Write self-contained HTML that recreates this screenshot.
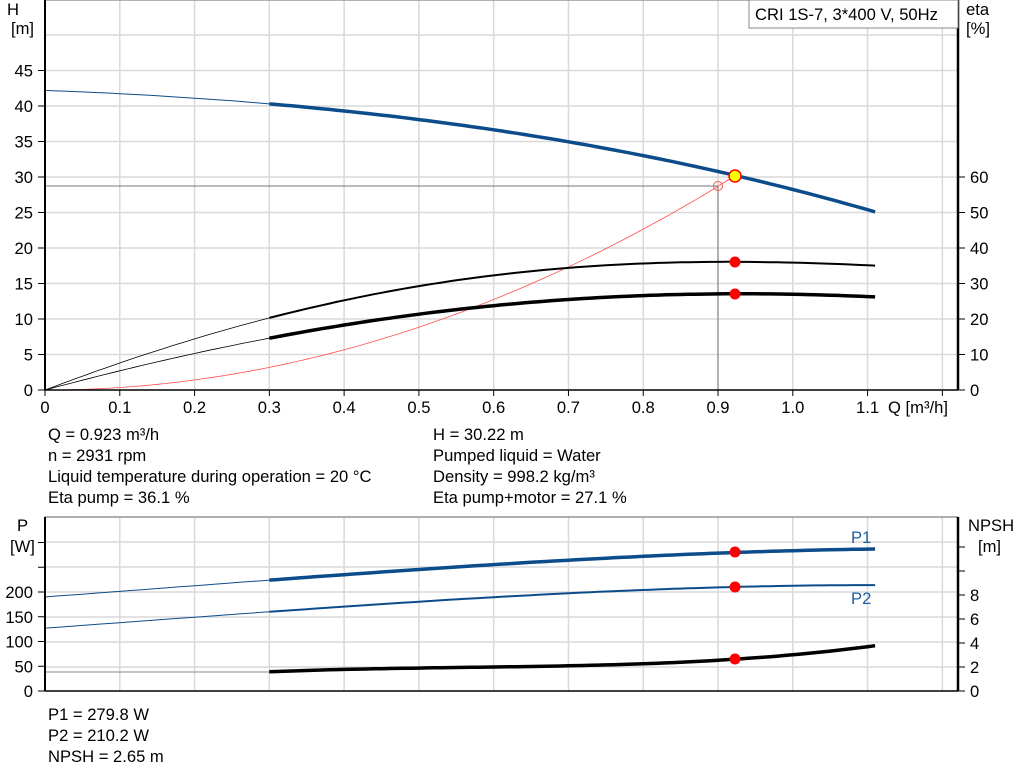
<!DOCTYPE html>
<html><head><meta charset="utf-8"><style>
html,body{margin:0;padding:0;background:#fff;}
svg{display:block;font-family:"Liberation Sans",Arial,sans-serif;}
</style></head><body>
<svg id="s" width="1024" height="781" viewBox="0 0 1024 781" xmlns="http://www.w3.org/2000/svg">
<g id="grid" stroke="#d9d9d9" stroke-width="1.5" fill="none"></g>
<g id="curves" fill="none"></g>
<g id="axes"></g>
<g font-size="16.6" fill="#000">
<text x="7" y="15">H</text><text x="11" y="34">[m]</text>
<text x="966" y="15">eta</text><text x="966" y="34">[%]</text>
<text x="48" y="440">Q = 0.923 m³/h</text>
<text x="48" y="461">n = 2931 rpm</text>
<text x="48" y="482">Liquid temperature during operation = 20 °C</text>
<text x="48" y="503">Eta pump = 36.1 %</text>
<text x="433" y="440">H = 30.22 m</text>
<text x="433" y="461">Pumped liquid = Water</text>
<text x="433" y="482">Density = 998.2 kg/m³</text>
<text x="433" y="503">Eta pump+motor = 27.1 %</text>
<text x="17" y="531">P</text><text x="10" y="552">[W]</text>
<text x="968" y="531">NPSH</text><text x="978" y="552">[m]</text>
<text x="48" y="720">P1 = 279.8 W</text>
<text x="48" y="741">P2 = 210.2 W</text>
<text x="48" y="762">NPSH = 2.65 m</text>
<text x="851" y="543" fill="#1f5f9f">P1</text>
<text x="851" y="604" fill="#1f5f9f">P2</text>
<text x="888" y="413">Q [m³/h]</text>
</g>
<rect x="749" y="0" width="209" height="28" fill="#fff" stroke="#888" stroke-width="1"/>
<text x="755" y="20" font-size="16.6">CRI 1S-7, 3*400 V, 50Hz</text>
</svg>
<script>
var NS="http://www.w3.org/2000/svg";
function el(p,t,a,txt){var e=document.createElementNS(NS,t);for(var k in a)e.setAttribute(k,a[k]);if(txt!==undefined)e.textContent=txt;document.getElementById(p).appendChild(e);return e;}
var X=function(q){return 45+q*747.8;};
var Yh=function(h){return 390-h*7.1;};
var Ye=function(e){return 390-e*3.55;};
var Yp=function(p){return 691-p*0.495;};
var Yn=function(n){return 691-n*12;};
for(var i=1;i<=12;i++){var x=X(i/10);el("grid","line",{x1:x,y1:0,x2:x,y2:390});el("grid","line",{x1:x,y1:517,x2:x,y2:691});}
for(var h=5;h<=50;h+=5){el("grid","line",{x1:45,y1:Yh(h),x2:958,y2:Yh(h)});}
for(var y=667;y>=517;y-=25){el("grid","line",{x1:45,y1:y,x2:958,y2:y});}
el("grid","line",{x1:45,y1:517,x2:958,y2:517,stroke:"#999"});
el("grid","line",{x1:45,y1:0,x2:958,y2:0,stroke:"#999"});
function lag(pts){return function(q){var s=0;for(var i=0;i<pts.length;i++){var t=pts[i][1];for(var j=0;j<pts.length;j++)if(j!=i)t*=(q-pts[j][0])/(pts[i][0]-pts[j][0]);s+=t;}return s;};}
function path(f,Y,a,b){var d="";for(var q=a;q<=b+1e-9;q+=0.01){d+=(d?"L":"M")+X(q).toFixed(1)+","+Y(f(q)).toFixed(1);}return d;}
function curve(f,Y,col,w1,w2){el("curves","path",{d:path(f,Y,0,0.3),stroke:col,"stroke-width":w1});el("curves","path",{d:path(f,Y,0.3,1.113),stroke:col,"stroke-width":w2});}
var H=lag([[0,42.2],[0.3,40.3],[0.923,30.22],[1.113,25]]);
var E1=lag([[0,0],[0.3,20.3],[0.7,34.4],[0.923,36.1],[1.113,35]]);
var E2=lag([[0,0],[0.3,14.6],[0.7,25.5],[0.923,27.1],[1.113,26.2]]);
var P1=lag([[0,190],[0.3,224],[0.923,279.8],[1.113,287]]);
var P2=lag([[0,127],[0.3,160],[0.923,210.2],[1.113,214]]);
var N=lag([[0.3,1.6],[0.7,2.1],[0.923,2.65],[1.113,3.8]]);
el("curves","path",{d:path(function(q){return 35.4*q*q;},Yh,0,0.9),stroke:"#ff5050","stroke-width":0.8});
el("curves","line",{x1:45,y1:186,x2:718,y2:186,stroke:"#777","stroke-width":1});
el("curves","line",{x1:718,y1:186,x2:718,y2:390,stroke:"#777","stroke-width":1});
el("curves","line",{x1:718,y1:186,x2:735,y2:176,stroke:"#ff5050","stroke-width":0.8});
el("curves","circle",{cx:718,cy:186,r:4.5,stroke:"#ff5050","stroke-width":1});
curve(H,Yh,"#0d4c8a",1,3.5);
curve(E1,Ye,"#000",0.8,2);
curve(E2,Ye,"#000",0.8,3.5);
curve(P1,Yp,"#0d4c8a",1,3.5);
curve(P2,Yp,"#0d4c8a",1,2);
el("curves","line",{x1:45,y1:672,x2:270,y2:672,stroke:"#888","stroke-width":1});
el("curves","path",{d:path(N,Yn,0.3,1.113),stroke:"#000","stroke-width":3.5});
el("curves","circle",{cx:735,cy:176,r:6,fill:"#ffff00",stroke:"#ff0000","stroke-width":1.5});
[[735,262],[735,294],[735,552],[735,587],[735,659]].forEach(function(p){el("curves","circle",{cx:p[0],cy:p[1],r:5.5,fill:"#ff0000"});});
var A="axes";
el(A,"line",{x1:45,y1:0,x2:45,y2:390,stroke:"#000","stroke-width":2});
el(A,"line",{x1:45,y1:390,x2:958,y2:390,stroke:"#000","stroke-width":1.5});
el(A,"line",{x1:958,y1:0,x2:958,y2:390,stroke:"#000","stroke-width":2.5});
el(A,"line",{x1:45,y1:517,x2:45,y2:691,stroke:"#000","stroke-width":2});
el(A,"line",{x1:45,y1:691,x2:958,y2:691,stroke:"#000","stroke-width":1.5});
el(A,"line",{x1:958,y1:517,x2:958,y2:691,stroke:"#000","stroke-width":2.5});
function t(x,y,s,anc){el(A,"text",{x:x,y:y,"font-size":16.6,"text-anchor":anc||"middle"},s);}
for(var i=0;i<=12;i++){var x=X(i/10);el(A,"line",{x1:x,y1:390,x2:x,y2:396,stroke:"#000"});if(i<=11)t(x,413,i==0?"0":(i/10).toFixed(1));}
for(var h=0;h<=45;h+=5){el(A,"line",{x1:38,y1:Yh(h),x2:45,y2:Yh(h),stroke:"#000"});t(33,Yh(h)+6,""+h,"end");}
for(var e=0;e<=60;e+=10){el(A,"line",{x1:958,y1:Ye(e),x2:965,y2:Ye(e),stroke:"#000"});t(970,Ye(e)+6,""+e,"start");}
var pl=["0","50","100","150","200","","",""];
for(var k=0;k<7;k++){var y=691-k*24.75;el(A,"line",{x1:38,y1:y,x2:45,y2:y,stroke:"#000"});if(pl[k])t(33,y+6,pl[k],"end");}
for(var n=0;n<=12;n+=2){var y=Yn(n);el(A,"line",{x1:958,y1:y,x2:965,y2:y,stroke:"#000"});if(n<=8)t(970,y+6,""+n,"start");}
</script>
</body></html>
